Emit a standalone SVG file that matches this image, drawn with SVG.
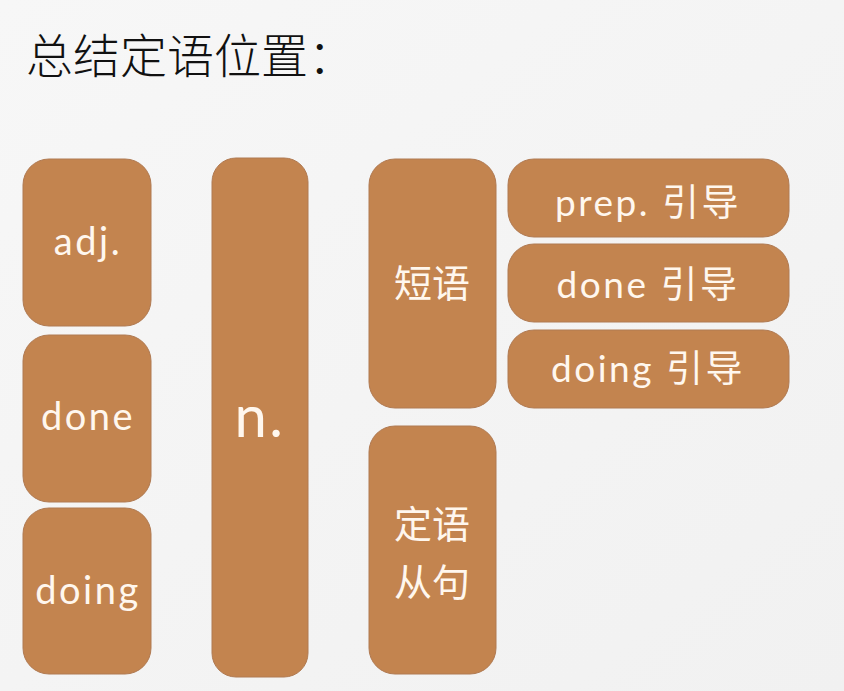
<svg xmlns="http://www.w3.org/2000/svg" width="844" height="691" viewBox="0 0 844 691">
<defs>
<linearGradient id="bg" x1="0" y1="0" x2="1" y2="1">
<stop offset="0" stop-color="#F7F7F7"/>
<stop offset="1" stop-color="#F1F1F1"/>
</linearGradient>
<style>
.box{fill:#C3844F;stroke:#B07A52;stroke-width:1}
.lbl{fill:#FFF7EE;font-family:Lato,"Noto Sans","Noto Sans CJK SC",sans-serif;text-anchor:middle;letter-spacing:2.5px}
.cjk{letter-spacing:0}
.title{fill:#111111;font-family:"Noto Sans CJK SC","Noto Sans",sans-serif;font-size:47px;font-weight:300}
</style>
</defs>
<rect width="844" height="691" fill="url(#bg)"/>
<text class="title" x="26" y="73">总结定语位置：</text>
<g id="node-adj"><rect class="box" x="23" y="159" width="128" height="167" rx="26"/><text class="lbl" x="88" y="255" font-size="38">adj.</text></g>
<g id="node-done"><rect class="box" x="23" y="335" width="128" height="167" rx="26"/><text class="lbl" x="88" y="430" font-size="38">done</text></g>
<g id="node-doing"><rect class="box" x="23" y="508" width="128" height="166" rx="26"/><text class="lbl" x="88" y="604" font-size="38">doing</text></g>
<g id="node-n"><rect class="box" x="212" y="158" width="96" height="519" rx="24"/><text class="lbl" x="260" y="437" font-size="58">n.</text></g>
<g id="node-phrase"><rect class="box" x="369" y="159" width="127" height="249" rx="26"/><text class="lbl cjk" x="432" y="297" font-size="38">短语</text></g>
<g id="node-prep"><rect class="box" x="508" y="159" width="281" height="78" rx="26"/><text class="lbl" x="648" y="216" font-size="37">prep. 引导</text></g>
<g id="node-done-lead"><rect class="box" x="508" y="244" width="281" height="78" rx="26"/><text class="lbl" x="648" y="298" font-size="37">done 引导</text></g>
<g id="node-doing-lead"><rect class="box" x="508" y="330" width="281" height="78" rx="26"/><text class="lbl" x="648" y="382" font-size="37">doing 引导</text></g>
<g id="node-clause"><rect class="box" x="369" y="426" width="127" height="248" rx="26"/><text class="lbl cjk" x="432" y="538" font-size="38">定语</text><text class="lbl cjk" x="432" y="596" font-size="38">从句</text></g>
<g id="connectors"/>
</svg>
